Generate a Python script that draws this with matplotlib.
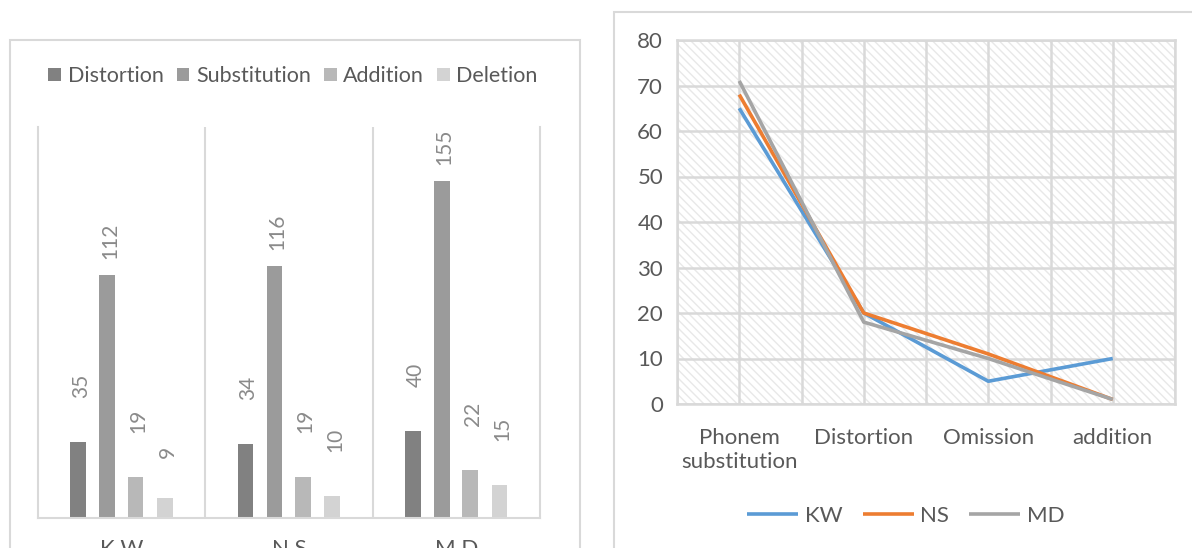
import numpy as np
import matplotlib.pyplot as plt
from matplotlib.patches import Rectangle

plt.rcParams['font.family'] = ['Lato', 'DejaVu Sans']
plt.rcParams['hatch.linewidth'] = 1.0

# bar chart data (error counts per child)
children = ['K W', 'N S', 'M D']
bar_types = ['Distortion', 'Substitution', 'Addition', 'Deletion']
distortion = [35, 34, 40]
substitution = [112, 116, 155]
addition = [19, 19, 22]
deletion = [9, 10, 15]

# line chart data
error_types = ['Phonem\nsubstitution', 'Distortion', 'Omission', 'addition']
kw = [65, 20, 5, 10]
ns = [68, 20, 11, 1]
md = [71, 18, 10, 1]

W, H = 1192, 548
fig = plt.figure(figsize=(W / 100, H / 100), dpi=100)
txt = '#595959'
grid = '#d9d9d9'

def px_axes(l, t, r, b):
    return fig.add_axes([l / W, 1 - b / H, (r - l) / W, (b - t) / H])

# chart frames
fig.patches.append(Rectangle((10 / W, -0.1), 570 / W, 1.1 - 40 / H, transform=fig.transFigure,
                             fill=False, edgecolor=grid, lw=1.5))
fig.patches.append(Rectangle((614 / W, -0.1), 0.5, 1.1 - 12 / H, transform=fig.transFigure,
                             fill=False, edgecolor=grid, lw=1.5))

# ---- left: grouped bars
ax1 = px_axes(38, 127, 540, 518)
bar_cols = ['#818181', '#9b9b9b', '#b8b8b8', '#d3d3d3']
offsets = [-0.26, -0.087, 0.083, 0.258]
x = np.arange(len(children))
lab_gap = {1: 40, 2: 44, 3: 16}
for vals, col, off, name in zip([distortion, substitution, addition, deletion], bar_cols, offsets, bar_types):
    ax1.bar(x + off, vals, width=0.093, color=col, label=name, zorder=2)
    for xi, v in zip(x, vals):
        ax1.annotate(str(v), (xi + off, v), xytext=(2, lab_gap[len(str(v))] * 0.72),
                     textcoords='offset points', rotation=90, ha='center', va='bottom',
                     fontsize=15, color='#8a8a8a')
ax1.set_xlim(-0.5, 2.5)
ax1.set_ylim(0, 180)
ax1.set_yticks([])
ax1.set_xticks(x)
ax1.set_xticklabels(children, fontsize=16, color=txt)
ax1.tick_params(axis='x', length=0, pad=15)
for b in [0.5, 1.5]:
    ax1.axvline(b, color=grid, lw=1.5, zorder=1)
ax1.spines['top'].set_visible(False)
for s in ['left', 'right', 'bottom']:
    ax1.spines[s].set_color(grid)
    ax1.spines[s].set_linewidth(1.5)
ax1.legend(loc='center', bbox_to_anchor=(293 / W, 1 - 76 / H), bbox_transform=fig.transFigure,
           ncol=4, frameon=False, fontsize=15.5, labelcolor=txt, handlelength=0.6,
           handleheight=0.6, handletextpad=0.3, columnspacing=0.6)

# ---- right: lines over hatched background
ax2 = px_axes(677, 40, 1175, 404)
ax2.add_patch(Rectangle((0, 0), 1, 1, transform=ax2.transAxes, facecolor='white',
                        edgecolor='#e8e8e8', hatch='\\\\\\\\', lw=0, zorder=0))
xi = np.arange(len(error_types))
for vals, col, name in zip([kw, ns, md], ['#5b9bd5', '#ed7d31', '#a5a5a5'], ['KW', 'NS', 'MD']):
    ax2.plot(xi, vals, color=col, lw=2.6, label=name, zorder=3, solid_capstyle='butt')
ax2.set_xlim(-0.5, 3.5)
ax2.set_ylim(0, 80)
ax2.set_yticks(range(0, 81, 10))
ax2.set_xticks(xi)
ax2.set_xticklabels(error_types, fontsize=16, color=txt, linespacing=1.3)
ax2.set_xticks(np.arange(-0.5, 3.6, 1), minor=True)
ax2.tick_params(axis='both', which='both', length=0, labelsize=16, labelcolor=txt)
ax2.tick_params(axis='x', pad=17)
ax2.tick_params(axis='y', pad=10)
ax2.grid(True, which='both', color=grid, lw=1.8, zorder=1)
ax2.set_axisbelow(True)
for s in ax2.spines.values():
    s.set_color(grid)
    s.set_linewidth(1.8)
ax2.legend(loc='center', bbox_to_anchor=(906 / W, 1 - 516 / H), bbox_transform=fig.transFigure,
           ncol=3, frameon=False, fontsize=16, labelcolor=txt, handlelength=2.3,
           handletextpad=0.3, columnspacing=0.9)

fig.savefig('out.png', dpi=100)
